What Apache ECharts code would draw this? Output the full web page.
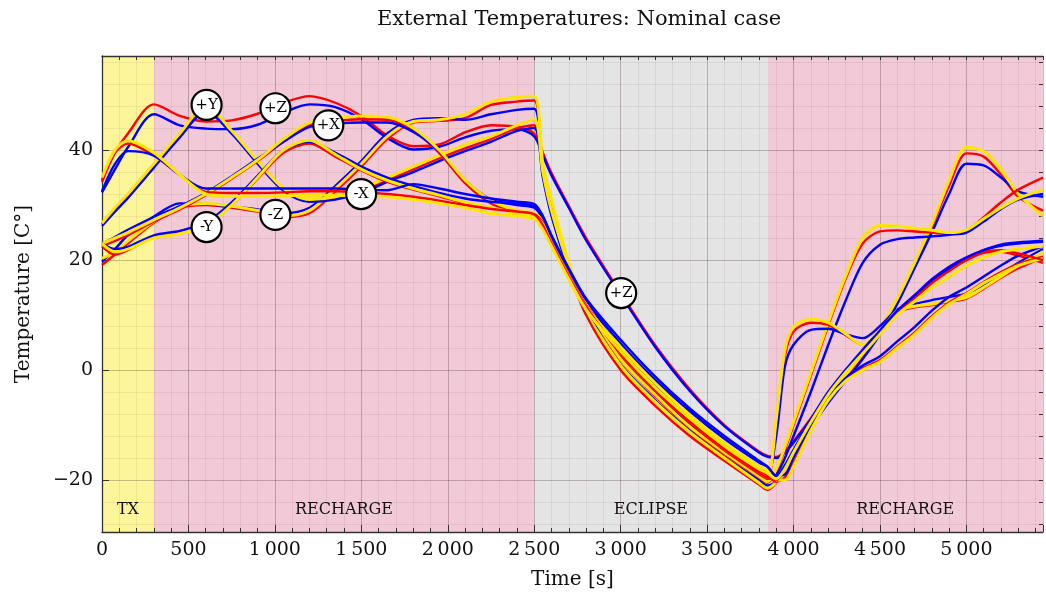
<!DOCTYPE html>
<html>
<head>
<meta charset="utf-8">
<title>External Temperatures: Nominal case</title>
<script src="https://cdn.jsdelivr.net/npm/echarts@6/dist/echarts.min.js"></script>
<style>
  html, body { margin: 0; padding: 0; background: #fff; }
  #chart { width: 1046px; height: 596px; }
</style>
</head>
<body>
<div id="chart"></div>
<script>
// shared time base [s]
var time = [0, 75, 150, 300, 450, 600, 750, 900, 1050, 1200, 1350, 1500, 1650, 1800, 1950, 2100, 2250, 2400, 2500,
  2550, 2600, 2700, 2800, 3000, 3200, 3400, 3600, 3800, 3850,
  3900, 3950, 4000, 4100, 4200, 4300, 4400, 4500, 4600, 4700, 4800, 4900, 5000, 5100, 5200, 5300, 5443];

// face temperatures [C]
var pzRed = [34.2, 39.5, 43, 48.3, 46.2, 45.2, 45.4, 46.6, 48.6, 49.8, 48.6, 46.2, 42.6, 40.7, 41, 43.2, 44.5, 44.2, 43,
  39.5, 35.8, 29.8, 24, 14, 4.5, -3.5, -10, -14.8, -15.6,
  -15.8, -14.8, -13, -8.8, -4.5, -0.5, 3.5, 7, 10.5, 13.5, 16, 18.2, 20, 21.3, 21.5, 20.8, 19.5];
var pzBlue = [32.3, 36.5, 40.5, 46.5, 44.5, 43.9, 43.8, 44.6, 46.8, 48.3, 47.8, 45.6, 42.2, 40.1, 40.6, 42.3, 43.5, 43.8, 42.5,
  39, 35.4, 29.5, 23.6, 13.7, 4.2, -3.8, -10.2, -15, -15.8,
  -16, -15, -13.2, -9, -4.8, -0.8, 3.2, 6.8, 10.2, 13.3, 16, 18.4, 20.3, 21.8, 22.6, 23, 23.3];

var nzRed = [19.1, 21, 23, 26.8, 29.5, 30, 29.5, 28.8, 27.8, 28.5, 32.5, 37, 42, 45, 45.3, 45.8, 48.2, 48.8, 49,
  37, 30.5, 18.5, 10, 0, -6.5, -12, -16.5, -20.8, -21.8,
  -20.5, -18, -15, -10, -5.5, -1.5, 2.5, 7, 12.5, 19, 26, 33.5, 39.4, 38.8, 35.5, 31.5, 29];
var nzBlue = [19.7, 22, 24.5, 27.9, 30.3, 30.2, 29.7, 29.2, 28.5, 29.5, 33.5, 38, 43, 45.5, 45.8, 45.5, 46.5, 47.3, 47.5,
  36.5, 30, 18.8, 10.8, 1, -5.5, -11, -15.8, -20, -21,
  -20.2, -17.8, -15.5, -10.5, -6, -2, 2, 6.5, 12, 18.5, 25, 32, 37.5, 37.2, 35, 32.5, 31.5];
var nzYellow = [20.3, 21.5, 23.5, 27, 29.8, 30.3, 29.8, 29, 28, 29, 33, 37.5, 42.5, 45.2, 45.5, 46.5, 48.8, 49.6, 49.8,
  37.5, 31, 19.5, 11, 0.8, -5.8, -11.3, -16, -20.5, -21.5,
  -20.3, -17, -14.5, -9.5, -5, -1, 3, 7.5, 13, 19.5, 26.5, 34.5, 40.5, 39.8, 36.5, 32, 28];

var pyRed = [26.5, 29.2, 31.8, 37.3, 42.8, 47.8, 43.3, 37.8, 32.8, 30.8, 31.3, 32.5, 34.5, 36.5, 38.5, 40.3, 42, 44, 44.5,
  35.5, 28.5, 18.5, 11.5, 1.8, -4.8, -10.5, -15.3, -19.5, -20.5,
  -18.4, -14.5, -10, -1, 8, 16.5, 23, 25.2, 25.4, 25.2, 25, 24.8, 25.3, 27.8, 30.5, 32.8, 35];
var pyBlue = [26.2, 28.8, 31.3, 36.8, 42.3, 47, 43, 37.5, 32.6, 30.6, 31, 32.2, 34.2, 36, 38, 39.8, 41.5, 43.5, 44,
  35, 28, 18.2, 11.3, 2.2, -4.3, -10, -14.8, -19, -20,
  -19, -16, -12, -4, 4.5, 12.5, 19.5, 22.8, 23.8, 24.1, 24.3, 24.6, 25, 27, 29.3, 31, 32];
var pyYellow = [26.7, 29.5, 32, 37.5, 43, 48, 43.5, 38, 33, 31, 31.5, 33, 35, 37, 39, 41, 42.5, 44.5, 45.5,
  36, 29, 19, 12, 2, -4.5, -10.3, -15, -19.3, -20.3,
  -18, -14, -9.5, -0.5, 8.5, 17, 24, 26.3, 26.2, 25.8, 25.4, 25, 25.5, 27.5, 29.5, 31.2, 32.8];

var pxRed = [22.5, 23.5, 24.5, 27, 29.2, 31.8, 34.8, 38, 41.5, 44.5, 45.3, 45.6, 45.5, 43.5, 39.5, 34, 30.3, 28.8, 28.3,
  26.8, 23.2, 17.2, 11.7, 2.8, -3.8, -9.6, -14.6, -18.9, -19.8,
  -10, 2.5, 7, 8.6, 8.2, 6.4, 4.6, 6.8, 10.5, 11.4, 11.8, 12.4, 13, 14.8, 16.8, 18.5, 20.5];
var pxBlue = [23, 24.2, 25.5, 27.8, 29.8, 32.2, 35.2, 38.4, 41.5, 44.2, 44.8, 45, 45, 43.3, 39.8, 34.5, 31, 30, 29.5,
  27.5, 24, 18, 12.5, 4, -2.6, -8.5, -13.5, -17.8, -18.8,
  -12, 0.6, 4.6, 7.3, 7.5, 6.5, 5.8, 8, 11, 12, 12.7, 13.3, 13.9, 15.5, 17.5, 19.5, 22];
var pxYellow = [23, 24, 25, 27.3, 29.5, 32, 35, 38.2, 42, 45, 45.8, 46.2, 46, 44, 40, 34.5, 30.8, 29, 28.5,
  27, 23.5, 17.5, 12, 3.2, -3.4, -9.2, -14.2, -18.6, -19.5,
  -9, 3.6, 7.8, 9.3, 8.6, 6.6, 4.6, 7, 10.8, 11.6, 12, 12.6, 13.2, 15, 17, 19, 21.5];

var nyRed = [22.5, 21, 21.8, 24.2, 25.2, 26.6, 30, 34.8, 39.5, 41.2, 38.8, 36.3, 34.2, 32.8, 31.6, 30.3, 29.3, 28.8, 28.3,
  26.8, 23.3, 17.3, 11.8, 3.5, -3.2, -9, -14, -18.3, -19.2,
  -20.3, -19.5, -17, -10.8, -5.3, -1.8, 0.3, 1.8, 4.3, 6.8, 9.8, 12.3, 14, 16, 17.8, 19.3, 20.6];
var nyBlue = [23, 22, 22.4, 24.5, 25.3, 26.8, 30.5, 35.3, 40, 41.5, 39.5, 37, 35, 33.5, 32.2, 31.2, 30.6, 30.3, 29.8,
  27.8, 24.3, 18.3, 12.8, 4.8, -1.8, -7.5, -12.5, -16.8, -17.6,
  -19.2, -19, -16, -10, -5, -1.5, 0.8, 2.5, 5.2, 7.8, 10.8, 13.3, 15, 17, 19, 20.8, 22.5];
var nyYellow = [23, 21.5, 22, 24, 24.8, 26.3, 30, 35, 40, 41.8, 39.2, 36.5, 34.5, 33, 31.8, 30.5, 29.5, 28.5, 28,
  26.5, 23, 17, 11.5, 4.2, -2.4, -8.2, -13.2, -17.5, -18.3,
  -20, -20, -17.5, -11, -5.5, -2, 0, 1.5, 4, 6.5, 9.5, 12, 13.8, 15.8, 17.5, 19, 20.3];

var nxRed = [34.5, 39.5, 41.2, 39, 35.5, 32.4, 32.2, 32.2, 32.3, 32.5, 32.5, 32.3, 32, 31.5, 30.8, 30, 29.3, 28.8, 28.3,
  26.3, 23, 17, 11.5, 3, -3.6, -9.4, -14.4, -18.7, -19.6,
  -20, -17.8, -14.8, -9.3, -4.2, -0.2, 3.3, 6.8, 10.3, 13, 15.8, 18, 20, 21.5, 21.8, 21.2, 20];
var nxBlue = [32.5, 37.5, 39.8, 39, 35.5, 33, 33, 33, 33, 33, 33, 32.8, 32.7, 33.8, 33, 32, 31.2, 30.6, 30.2,
  28, 24.5, 18.5, 13, 5.5, -1.2, -7, -12, -16.5, -17.6,
  -19.3, -17.3, -14.5, -9, -4, 0, 3.7, 7.2, 10.8, 13.6, 16.5, 18.8, 20.5, 21.8, 22.8, 23.2, 23.5];
var nxYellow = [35, 40, 41.7, 39.5, 35.5, 32, 31.6, 31.6, 31.7, 31.8, 31.8, 31.6, 31.5, 31, 30.3, 29.5, 28.5, 28, 27.5,
  25.5, 22.5, 16.5, 11, 3.4, -3.2, -8.8, -13.8, -18, -18.8,
  -19.8, -18, -15, -9.5, -4.5, -0.5, 3, 6.5, 10, 12.5, 15, 17, 19, 20.5, 21.5, 22, 22.5];

// face tags drawn on the curves
var tagNames = ['+Y', '+Z', '+X', '-X', '-Y', '-Z', '+Z'];
var tagTimes = [605, 1003, 1309, 1499, 605, 1003, 3003];
var tagTemps = [48.2, 47.6, 44.5, 32, 26, 28.2, 14];

// mission phases
var phaseNames = ['TX', 'RECHARGE', 'ECLIPSE', 'RECHARGE'];
var phaseBounds = [0, 300, 2500, 3850, 5443];

var SERIF = '"DejaVu Serif", "Liberation Serif", serif';
var phaseColors = ['#fdf59a', '#f1c9d7', '#e4e4e4', '#f1c9d7'];
var curveColors = { red: '#ff0000', blue: '#0000ff', yellow: '#ffe600' };

var curves = [
  ['+Z', pzRed, 'red'], ['+Z', pzBlue, 'blue'],
  ['-Z', nzRed, 'red'], ['-Z', nzBlue, 'blue'], ['-Z', nzYellow, 'yellow'],
  ['+Y', pyRed, 'red'], ['+Y', pyBlue, 'blue'], ['+Y', pyYellow, 'yellow'],
  ['+X', pxRed, 'red'], ['+X', pxBlue, 'blue'], ['+X', pxYellow, 'yellow'],
  ['-Y', nyRed, 'red'], ['-Y', nyBlue, 'blue'], ['-Y', nyYellow, 'yellow'],
  ['-X', nxRed, 'red'], ['-X', nxBlue, 'blue'], ['-X', nxYellow, 'yellow']
];

function pairs(xs, ys) {
  var out = [];
  for (var i = 0; i < xs.length; i++) out.push([xs[i], ys[i]]);
  return out;
}

function fmtTime(v) {
  if (v % 500 !== 0) return '';
  if (v < 1000) return String(v);
  var r = v % 1000;
  return Math.floor(v / 1000) + '\u2009' + (r === 0 ? '000' : String(r));
}

function fmtTemp(v) {
  if (Math.abs(v % 20) > 1e-6) return '';
  return v < 0 ? '\u2212' + (-v) : String(v);
}

var chart = echarts.init(document.getElementById('chart'), null, { renderer: 'canvas' });

var areas = [];
for (var i = 0; i < phaseNames.length; i++) {
  areas.push([
    { name: phaseNames[i], xAxis: phaseBounds[i], itemStyle: { color: phaseColors[i] } },
    { xAxis: phaseBounds[i + 1] }
  ]);
}

var series = [{
  type: 'line',
  data: [],
  z: 1,
  silent: true,
  markArea: {
    silent: true,
    label: { show: true, position: 'insideBottom', distance: 14, color: '#111', fontFamily: SERIF, fontSize: 16 },
    data: areas
  }
}];

curves.forEach(function (c) {
  series.push({
    name: c[0],
    type: 'line',
    data: pairs(time, c[1]),
    showSymbol: false,
    smooth: 0.3,
    z: 5,
    lineStyle: { color: curveColors[c[2]], width: c[2] === 'yellow' ? 3 : 2.4 }
  });
});

series.push({
  type: 'scatter',
  z: 10,
  symbol: 'circle',
  symbolSize: 30,
  itemStyle: { color: '#fff', opacity: 1, borderColor: '#000', borderWidth: 2.2 },
  label: { show: true, position: 'inside', formatter: '{b}', color: '#000', fontFamily: SERIF, fontSize: 15 },
  data: tagNames.map(function (n, i) { return { name: n, value: [tagTimes[i], tagTemps[i]] }; })
});

var option = {
  animation: false,
  backgroundColor: '#fff',
  graphic: [{
    type: 'text', x: 579, y: 20,
    style: { text: 'External Temperatures: Nominal case', font: '21px ' + SERIF, fill: '#111', textAlign: 'center', textVerticalAlign: 'middle' }
  }],
  grid: { left: 102, right: 0, top: 56, bottom: 64 },
  xAxis: [{
    type: 'value', min: 0, max: 5443, interval: 500, position: 'bottom', z: 3,
    name: 'Time [s]', nameLocation: 'middle', nameGap: 38,
    nameTextStyle: { fontFamily: SERIF, fontSize: 20, color: '#111' },
    axisLine: { show: true, onZero: false, lineStyle: { color: '#333', width: 1.3 } },
    axisTick: { show: true, inside: true, length: 7, lineStyle: { color: '#333' } },
    axisLabel: { margin: 9, color: '#111', fontFamily: SERIF, fontSize: 19, formatter: fmtTime },
    splitLine: { show: true, lineStyle: { color: 'rgba(60,30,40,0.22)', width: 1 } }
  }, {
    type: 'value', min: 0, max: 5443, interval: 100, position: 'bottom', z: 3,
    axisLine: { show: false, onZero: false },
    axisTick: { show: true, inside: true, length: 4, lineStyle: { color: '#333' } },
    axisLabel: { show: false },
    splitLine: { show: true, lineStyle: { color: 'rgba(60,30,40,0.07)', width: 1 } }
  }, {
    type: 'value', min: 0, max: 5443, interval: 100, position: 'top', z: 3,
    axisLine: { show: true, onZero: false, lineStyle: { color: '#333', width: 1.3 } },
    axisTick: { show: true, inside: true, length: 4, lineStyle: { color: '#333' } },
    axisLabel: { show: false },
    splitLine: { show: false }
  }],
  yAxis: [{
    type: 'value', min: -29.45, max: 57.1, minInterval: 20, maxInterval: 20, z: 3,
    name: 'Temperature [C\u00b0]', nameLocation: 'middle', nameGap: 68,
    nameTextStyle: { fontFamily: SERIF, fontSize: 20, color: '#111' },
    axisLine: { show: true, onZero: false, lineStyle: { color: '#333', width: 1.3 } },
    axisTick: { show: true, inside: true, length: 7, lineStyle: { color: '#333' } },
    axisLabel: { margin: 9, color: '#111', fontFamily: SERIF, fontSize: 19, formatter: fmtTemp },
    splitLine: { show: true, lineStyle: { color: 'rgba(60,30,40,0.22)', width: 1 } }
  }, {
    type: 'value', min: -29.45, max: 57.1, minInterval: 4, maxInterval: 4, z: 3,
    axisLine: { show: false, onZero: false },
    axisTick: { show: true, inside: true, length: 4, lineStyle: { color: '#333' } },
    axisLabel: { show: false },
    splitLine: { show: true, lineStyle: { color: 'rgba(60,30,40,0.07)', width: 1 } }
  }],
  series: series
};

chart.setOption(option);
</script>
</body>
</html>
